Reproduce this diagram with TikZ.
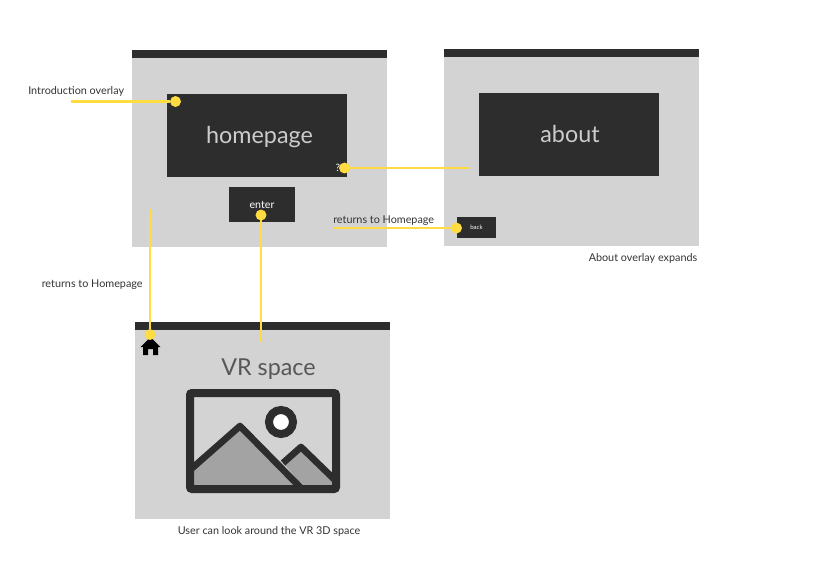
\documentclass[tikz,border=0pt]{standalone}
\usepackage{fontspec}
\setmainfont{Lato}
\usetikzlibrary{positioning}
\definecolor{panelgray}{HTML}{D3D3D3}
\definecolor{darkbox}{HTML}{2D2D2D}
\definecolor{marker}{HTML}{FFDC41}
\definecolor{peakgray}{HTML}{A3A3A3}
\tikzset{
  window/.style={fill=panelgray,draw=none,minimum width=191.25pt,minimum height=147.75pt,inner sep=0pt,outer sep=0pt},
  titlebar/.style={fill=darkbox,draw=none,minimum width=191.25pt,minimum height=6pt,inner sep=0pt,outer sep=0pt},
  darkbtn/.style={fill=darkbox,draw=none,text=white,inner sep=0pt,outer sep=0pt},
  bigtext/.style={font=\fontsize{17.5}{20}\selectfont},
  note/.style={font=\fontsize{8.1}{9}\selectfont,text=black!80,inner sep=0pt},
  link/.style={draw=marker,line width=2pt},
  dot/.style={circle,fill=marker,draw=none,minimum size=8.2pt,inner sep=0pt,outer sep=0pt},
}
\begin{document}
\begin{tikzpicture}[x=0.75pt,y=-0.75pt]
  \useasboundingbox (0,0) rectangle (816,576);

  % Homepage window
  \node[window,anchor=north west] (homewin) at (132,50) {};
  \node[titlebar,anchor=north west] (homebar) at (132,50) {};
  \node[darkbtn,anchor=north west,minimum width=135pt,minimum height=62.25pt] (homepage) at (167,94) {};
  \node[text=white!80!black,inner sep=0pt,bigtext] (hometext) at (259.5,137) {homepage};
  \node[darkbtn,anchor=north west,minimum width=49.5pt,minimum height=26.25pt,font=\fontsize{8}{9}\selectfont] (enter) at (229,187) {enter};
  \node[anchor=center,text=white,inner sep=0pt,font=\fontsize{7.6}{9}\selectfont] (help) at (338,168) {?};

  % About window
  \node[window,anchor=north west] (aboutwin) at (444,49) {};
  \node[titlebar,anchor=north west] (aboutbar) at (444,49) {};
  \node[darkbtn,anchor=north west,minimum width=135pt,minimum height=62.25pt] (about) at (479,93) {};
  \node[text=white!80!black,inner sep=0pt,bigtext] (abouttext) at (570,134) {about};
  \node[darkbtn,anchor=north west,minimum width=29.25pt,minimum height=15.75pt,font=\fontsize{4.5}{5}\selectfont] (back) at (457,217) {back};

  % VR window
  \node[window,anchor=north west] (vrwin) at (135,322) {};
  \node[titlebar,anchor=north west] (vrbar) at (135,322) {};
  \node[text=darkbox!80,inner sep=0pt,bigtext] (vrspace) at (268.5,369.5) {VR space};

  % Picture icon
  \fill[peakgray] (190,470) -- (240,427) -- (298,489) -- (190,489) -- cycle;
  \fill[peakgray] (283,463) -- (301,447) -- (336,482) -- (336,489) -- (306,489) -- cycle;
  \draw[darkbox,line width=5pt,line join=round] (190,470) -- (240,426) -- (300,487);
  \draw[darkbox,line width=5pt,line join=round] (283,463) -- (301,447) -- (335,480);
  \draw[darkbox,line width=6pt,rounded corners=1.5pt] (190,393) rectangle (336,489);
  \draw[darkbox,line width=6pt,fill=white] (281,422) circle (12);

  % Home icon
  \fill[black] (150.5,337) -- (160.5,347) -- (158,347) -- (158,355) -- (153,355) -- (153,349) -- (148,349) -- (148,355) -- (143,355) -- (143,347) -- (140.5,347) -- cycle;

  % Labels
  \node[note,anchor=west] (intronote) at (28,91) {Introduction overlay};
  \node[note,anchor=west] (backnote) at (333,221) {returns to Homepage};
  \node[note,anchor=west] (homenote) at (41.5,285) {returns to Homepage};
  \node[note,anchor=west] (aboutnote) at (588.5,258) {About overlay expands};
  \node[note,anchor=west] (vrnote) at (177.5,531) {User can look around the VR 3D space};

  % Yellow connectors
  \coordinate (introend) at (71,101.5);
  \coordinate (helpend) at (469,168);
  \coordinate (backend) at (333,228);
  \coordinate (homeend) at (150,209);
  \coordinate (enterend) at (261,342);
  \node[dot] (introdot) at (175.5,101.5) {};
  \node[dot] (helpdot) at (344.5,168) {};
  \node[dot] (backdot) at (456.5,228) {};
  \node[dot] (homedot) at (150,334.5) {};
  \node[dot] (enterdot) at (261,215) {};
  \draw[link] (introend) -- (introdot);
  \draw[link] (helpdot) -- (helpend);
  \draw[link] (backend) -- (backdot);
  \draw[link] (homeend) -- (homedot);
  \draw[link] (enterdot) -- (enterend);
\end{tikzpicture}
\end{document}
